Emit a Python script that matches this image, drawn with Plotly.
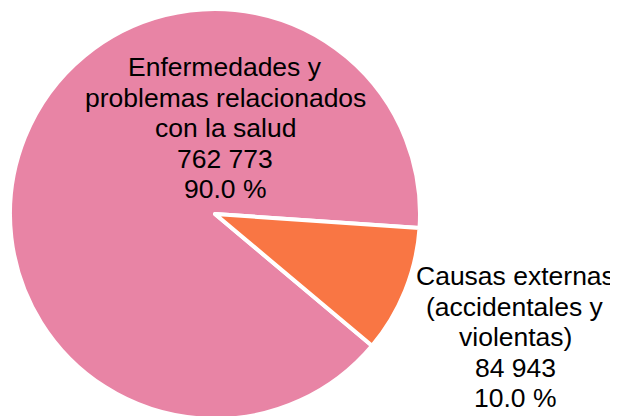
import plotly.graph_objects as go

# data
labels = ['Enfermedades y problemas relacionados con la salud',
          'Causas externas (accidentales y violentas)']
values = [762773, 84943]
percents = ['90.0 %', '10.0 %']
label_lines = [
    ['Enfermedades y', 'problemas relacionados', 'con la salud'],
    ['Causas externas', '(accidentales y', 'violentas)'],
]
colors = ['#E884A5', '#F97644']

W, H = 618, 416
OFF = 8  # page body margin

fig = go.Figure(go.Pie(
    labels=labels,
    values=values,
    sort=False,
    direction='clockwise',
    rotation=130,
    marker=dict(colors=colors, line=dict(color='white', width=4)),
    textinfo='none',
    showlegend=False,
    domain=dict(x=[(10 - OFF) / W, (420 - OFF) / W],
                y=[1 - (419 - OFF) / H, 1 - (9 - OFF) / H]),
))

########## Labels ##########
def fmt(v):
    return f'{v:,}'.replace(',', ' ')

# label block anchors (screen px x center, px y of first line centre)
anchors = [(225, 67), (515, 276)]
spacing = [30.5, 30.5]

for k in range(len(values)):
    lines = label_lines[k] + [fmt(values[k]), percents[k]]
    cx, cy = anchors[k]
    for i, line in enumerate(lines):
        fig.add_annotation(
            x=(cx - OFF) / W,
            y=1 - (cy - OFF + i * spacing[k]) / H,
            xref='paper', yref='paper',
            text=line,
            showarrow=False,
            xanchor='center', yanchor='middle',
            font=dict(family='Liberation Sans, Arial', size=26.5, color='black'),
        )

fig.update_layout(
    width=W,
    height=H,
    margin=dict(l=0, r=0, t=0, b=0),
    paper_bgcolor='white',
    plot_bgcolor='white',
)

fig.write_html('out.html')
